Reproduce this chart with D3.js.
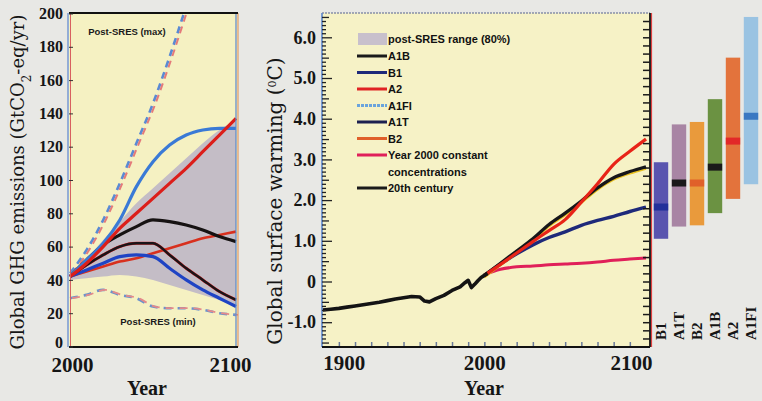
<!DOCTYPE html>
<html>
<head>
<meta charset="utf-8">
<script src="https://cdn.jsdelivr.net/npm/d3@7"></script>
<style>
  body { margin: 0; background: #e8e8e5; }
  svg { display: block; }
</style>
</head>
<body>
<svg id="chart" width="762" height="401"></svg>
<script>
// ---- emissions panel (GtCO2-eq/yr) ----
const emisYears = [2000, 2010, 2020, 2030, 2040, 2050, 2060, 2070, 2080, 2090, 2100];
const emisA1FI = [42, 52, 62, 76, 96, 111, 121, 127, 130, 131, 131];
const emisA2   = [42, 50, 60, 71, 80, 89, 98, 107, 117, 127, 137];
const emisA1B  = [42, 52, 61, 67, 72, 76, 75, 73, 70, 66, 63];
const emisA1T  = [42, 49, 55, 60, 62, 62, 55, 47, 40, 33, 28];
const emisB1   = [42, 46, 50, 54, 55, 54, 47, 40, 34, 29, 24];
const emisB2   = [42, 45, 48, 51, 53, 56, 59, 62, 65, 67, 69];
const postSresMaxYears = [2000, 2010, 2020, 2030, 2040, 2050, 2060, 2070, 2080];
const postSresMax = [44, 58, 76, 98, 122, 146, 174, 204, 232];
const postSresMin = [29, 31, 34, 31, 29, 24, 23, 23, 22, 20, 19];
const rangeUpper = [44, 53, 64, 75, 86, 95, 104, 113, 122, 130, 136];
const rangeLower = [40, 41, 42, 43, 42, 40, 37, 34, 31, 28, 25];
const emisTicks = [0, 20, 40, 60, 80, 100, 120, 140, 160, 180, 200];

// ---- warming panel (deg C relative to 1980-1999) ----
const histYears = [1900, 1905, 1910, 1915, 1920, 1925, 1930, 1935, 1940, 1945, 1950, 1955, 1960, 1963, 1966, 1970, 1975, 1980, 1985, 1988, 1990, 1992, 1994, 1996, 1998, 2000, 2002];
const histTemp  = [-0.70, -0.68, -0.66, -0.63, -0.60, -0.57, -0.54, -0.51, -0.47, -0.43, -0.40, -0.37, -0.38, -0.48, -0.50, -0.42, -0.34, -0.22, -0.13, -0.03, 0.03, -0.15, -0.07, 0.02, 0.10, 0.15, 0.20];
const projYears = [2000, 2010, 2020, 2030, 2040, 2050, 2060, 2070, 2080, 2090, 2100];
const warmA2    = [0.15, 0.42, 0.70, 0.98, 1.25, 1.52, 1.95, 2.40, 2.88, 3.20, 3.50];
const warmA1B   = [0.15, 0.45, 0.75, 1.05, 1.40, 1.68, 1.98, 2.30, 2.55, 2.70, 2.82];
const warmB1    = [0.15, 0.43, 0.68, 0.90, 1.08, 1.22, 1.38, 1.50, 1.60, 1.72, 1.83];
const warmConst = [0.17, 0.30, 0.36, 0.38, 0.41, 0.43, 0.45, 0.48, 0.52, 0.55, 0.58];
const warmTicks = [-1, 0, 1, 2, 3, 4, 5, 6];

// ---- likely ranges at 2090-2099 ----
const barScenarios = ['B1', 'A1T', 'B2', 'A1B', 'A2', 'A1FI'];
const barLow  = [1.05, 1.35, 1.38, 1.68, 2.03, 2.39];
const barHigh = [2.93, 3.86, 3.92, 4.48, 5.50, 6.50];
const barBest = [1.83, 2.42, 2.42, 2.81, 3.45, 4.06];
const barFill = ['#4c46aa', '#a27c9e', '#e8922e', '#5f8a34', '#e2682e', '#92bfe2'];
const barMark = ['#22309a', '#1a1a1a', '#e0602a', '#1a1a1a', '#e22828', '#3a78c2'];

// legend entries (line sample colours)
const legendLabels = ['A1B', 'B1', 'A2', 'A1FI', 'A1T', 'B2', 'Year 2000 constant', '20th century'];
const legendColors = ['#1a1a1a', '#1e2a7a', '#e02424', '#6aa4dc', '#1c2050', '#e0602a', '#e0205a', '#1a1a1a'];

const svg = d3.select('#chart');
const SERIF = '"Liberation Serif", "Times New Roman", serif';
const TITLE_FONT = '"DejaVu Serif", serif';
const SANS = '"Liberation Sans", Arial, sans-serif';

// left panel geometry
const L = { x0: 69, x1: 238, y0: 13, y1: 347 };
// right panel geometry
const R = { x0: 322, x1: 650, y0: 13, y1: 347 };

const emisX = d3.scaleLinear().domain([2000, 2100]).range([70, 236]);
const emisY = d3.scaleLinear().domain([0, 200]).range([346.5, 13.5]);
const warmX = d3.scaleLinear().domain([1900, 2100]).range([322.7, 646]);
const warmY = d3.scaleLinear().domain([0, 6]).range([281.5, 37.3]);

const defs = svg.append('defs');
defs.append('clipPath').attr('id', 'clipL')
    .append('rect').attr('x', L.x0).attr('y', L.y0).attr('width', L.x1 - L.x0).attr('height', L.y1 - L.y0);
defs.append('clipPath').attr('id', 'clipR')
    .append('rect').attr('x', R.x0).attr('y', R.y0).attr('width', R.x1 - R.x0).attr('height', R.y1 - R.y0);

// plot backgrounds
svg.append('rect').attr('x', L.x0).attr('y', L.y0).attr('width', L.x1 - L.x0).attr('height', L.y1 - L.y0)
    .attr('fill', '#f5f1c2');
svg.append('rect').attr('x', R.x0).attr('y', R.y0).attr('width', R.x1 - R.x0).attr('height', R.y1 - R.y0)
    .attr('fill', '#f6f2c6');

// ================= LEFT PANEL =================
const gL = svg.append('g').attr('clip-path', 'url(#clipL)');

const emisLine = vals => d3.line()
    .x((d, i) => emisX(emisYears[i]))
    .y(d => emisY(d))
    .curve(d3.curveMonotoneX)(vals);

// post-SRES 80% range shading
gL.append('path')
    .datum(emisYears)
    .attr('d', d3.area()
        .x(d => emisX(d))
        .y0((d, i) => emisY(rangeLower[i]))
        .y1((d, i) => emisY(rangeUpper[i]))
        .curve(d3.curveMonotoneX))
    .attr('fill', '#c4bdc6');

// post-SRES max (dashed, misregistered blue/red)
const maxLine = d3.line()
    .x((d, i) => emisX(postSresMaxYears[i]))
    .y(d => emisY(d))
    .curve(d3.curveMonotoneX);
gL.append('path').attr('d', maxLine(postSresMax))
    .attr('fill', 'none').attr('stroke', '#5a8ad4').attr('stroke-width', 2.6)
    .attr('stroke-dasharray', '7,5');
gL.append('path').attr('d', maxLine(postSresMax)).attr('transform', 'translate(2.5,0)')
    .attr('fill', 'none').attr('stroke', '#e47a7a').attr('stroke-width', 2)
    .attr('stroke-dasharray', '7,5');

// post-SRES min (dashed)
gL.append('path').attr('d', emisLine(postSresMin))
    .attr('fill', 'none').attr('stroke', '#6a92cc').attr('stroke-width', 2.6)
    .attr('stroke-dasharray', '8,6');
gL.append('path').attr('d', emisLine(postSresMin)).attr('transform', 'translate(2,0)')
    .attr('fill', 'none').attr('stroke', '#e48a8a').attr('stroke-width', 1.8)
    .attr('stroke-dasharray', '8,6');

const emisSeries = [
    { vals: emisB2,   color: '#d8301e', width: 2.6 },
    { vals: emisB1,   color: '#1f44c4', width: 3.2 },
    { vals: emisA1T,  color: '#d42020', width: 3 },
    { vals: emisA1T,  color: '#1a1418', width: 2.4 },
    { vals: emisA1B,  color: '#161212', width: 3.2 },
    { vals: emisA1FI, color: '#3a7ad6', width: 3.2 },
    { vals: emisA2,   color: '#dc1e1a', width: 3.2 }
];
emisSeries.forEach(s => {
    gL.append('path').attr('d', emisLine(s.vals))
        .attr('fill', 'none').attr('stroke', s.color).attr('stroke-width', s.width)
        .attr('stroke-linejoin', 'round');
});

// in-panel labels
svg.append('text').attr('x', 127).attr('y', 35).attr('text-anchor', 'middle')
    .attr('font-family', SANS).attr('font-weight', 'bold').attr('font-size', 9.5)
    .attr('fill', '#1a1a1a').text('Post-SRES (max)');
svg.append('text').attr('x', 158).attr('y', 325).attr('text-anchor', 'middle')
    .attr('font-family', SANS).attr('font-weight', 'bold').attr('font-size', 9.5)
    .attr('fill', '#1a1a1a').text('Post-SRES (min)');

// left frame
svg.append('line').attr('x1', L.x0 - 1).attr('x2', L.x0 - 1).attr('y1', L.y0).attr('y2', L.y1).attr('stroke', '#5b86cc').attr('stroke-width', 1.2);
svg.append('line').attr('x1', L.x0 + 1.5).attr('x2', L.x0 + 1.5).attr('y1', L.y0).attr('y2', L.y1).attr('stroke', '#d86060').attr('stroke-width', 1);
svg.append('line').attr('x1', L.x1 - 2).attr('x2', L.x1 - 2).attr('y1', L.y0).attr('y2', L.y1).attr('stroke', '#5b86cc').attr('stroke-width', 1.2);
svg.append('line').attr('x1', L.x1).attr('x2', L.x1).attr('y1', L.y0).attr('y2', L.y1).attr('stroke', '#e08a50').attr('stroke-width', 1);
svg.append('line').attr('x1', L.x0).attr('x2', L.x1).attr('y1', L.y0).attr('y2', L.y0).attr('stroke', '#111').attr('stroke-width', 2);
svg.append('line').attr('x1', L.x0).attr('x2', L.x1).attr('y1', L.y1).attr('y2', L.y1).attr('stroke', '#111').attr('stroke-width', 2);

// left y axis
const axL = svg.append('g').attr('transform', `translate(${L.x0},0)`)
    .call(d3.axisLeft(emisY).tickValues(emisTicks).tickSize(-4).tickPadding(6).tickFormat(d3.format('d')));
axL.select('.domain').remove();
axL.selectAll('line').attr('stroke', '#333');
axL.selectAll('text').attr('font-family', SERIF).attr('font-weight', 'bold').attr('font-size', 16).attr('fill', '#151515')
    .attr('y', d => d === 0 ? -4 : 0);

// left x axis
const axLB = svg.append('g').attr('transform', `translate(0,${L.y1})`)
    .call(d3.axisBottom(emisX).tickValues([2000, 2100]).tickSize(0).tickPadding(10).tickFormat(d3.format('d')));
axLB.select('.domain').remove();
axLB.selectAll('text').attr('font-family', SERIF).attr('font-weight', 'bold').attr('font-size', 21).attr('fill', '#151515')
    .attr('dx', (d, i) => i === 0 ? 2 : -6);

svg.append('text').attr('x', 147).attr('y', 395).attr('text-anchor', 'middle')
    .attr('font-family', SERIF).attr('font-weight', 'bold').attr('font-size', 20).attr('fill', '#151515').text('Year');

// left y title
const tL = svg.append('text').attr('transform', 'translate(24,182) rotate(-90)').attr('text-anchor', 'middle')
    .attr('font-family', TITLE_FONT).attr('font-size', 18).attr('fill', '#151515');
tL.append('tspan').text('Global GHG emissions (GtCO');
tL.append('tspan').attr('baseline-shift', 'sub').attr('font-size', 12).text('2');
tL.append('tspan').text('-eq/yr)');

// ================= RIGHT PANEL =================
const gR = svg.append('g').attr('clip-path', 'url(#clipR)');

const projLine = vals => d3.line()
    .x((d, i) => warmX(projYears[i]))
    .y(d => warmY(d))
    .curve(d3.curveMonotoneX)(vals);

gR.append('path').attr('d', projLine(warmConst))
    .attr('fill', 'none').attr('stroke', '#e0205a').attr('stroke-width', 3);
gR.append('path').attr('d', projLine(warmB1))
    .attr('fill', 'none').attr('stroke', '#1e2a7a').attr('stroke-width', 3.4);
gR.append('path').attr('d', projLine(warmA1B)).attr('transform', 'translate(0,2)')
    .attr('fill', 'none').attr('stroke', '#e8c020').attr('stroke-width', 2);
gR.append('path').attr('d', projLine(warmA1B))
    .attr('fill', 'none').attr('stroke', '#16161a').attr('stroke-width', 3.2);
gR.append('path').attr('d', projLine(warmA2))
    .attr('fill', 'none').attr('stroke', '#e82418').attr('stroke-width', 3.2);

gR.append('path')
    .attr('d', d3.line().x((d, i) => warmX(histYears[i])).y(d => warmY(d))(histTemp))
    .attr('fill', 'none').attr('stroke', '#141414').attr('stroke-width', 3.6).attr('stroke-linejoin', 'round');

// decade ticks along the bottom (inside)
const axRBt = svg.append('g').attr('transform', `translate(0,${R.y1})`)
    .call(d3.axisBottom(warmX).tickValues(d3.range(1910, 2100, 10)).tickSize(-5).tickFormat(''));
axRBt.select('.domain').remove();
axRBt.selectAll('line').attr('stroke', '#6a7a9a').attr('stroke-width', 1.5);

// right frame
svg.append('line').attr('x1', R.x0).attr('x2', R.x1).attr('y1', R.y0).attr('y2', R.y0)
    .attr('stroke', '#8890a8').attr('stroke-width', 1.5).attr('stroke-dasharray', '2,1');
svg.append('line').attr('x1', R.x0).attr('x2', R.x0).attr('y1', R.y0).attr('y2', R.y1).attr('stroke', '#5b86cc').attr('stroke-width', 1.6);
svg.append('line').attr('x1', R.x1 + 1.5).attr('x2', R.x1 + 1.5).attr('y1', R.y0).attr('y2', R.y1).attr('stroke', '#e04040').attr('stroke-width', 1.2);
svg.append('line').attr('x1', R.x1).attr('x2', R.x1).attr('y1', R.y0).attr('y2', R.y1).attr('stroke', '#111').attr('stroke-width', 1.8);
svg.append('line').attr('x1', R.x0).attr('x2', R.x1).attr('y1', R.y1).attr('y2', R.y1).attr('stroke', '#111').attr('stroke-width', 2);

// left side ticks: minor 0.1, half 0.5, major 1.0
const minorL = d3.range(-15, 66).map(k => k / 10);
const axRLminor = svg.append('g').attr('transform', `translate(${R.x0},0)`)
    .call(d3.axisLeft(warmY).tickValues(minorL.filter(v => Math.round(v * 10) % 5 !== 0)).tickSize(-4).tickFormat(''));
axRLminor.select('.domain').remove();
const axRLhalf = svg.append('g').attr('transform', `translate(${R.x0},0)`)
    .call(d3.axisLeft(warmY).tickValues(d3.range(-1.5, 6.6, 1)).tickSize(-7).tickFormat(''));
axRLhalf.select('.domain').remove();
const axRL = svg.append('g').attr('transform', `translate(${R.x0},0)`)
    .call(d3.axisLeft(warmY).tickValues(warmTicks).tickSize(-10).tickPadding(6)
        .tickFormat(d => d === 0 ? '0' : d.toFixed(1)));
axRL.select('.domain').remove();
[axRLminor, axRLhalf, axRL].forEach(a => a.selectAll('line').attr('stroke', '#222').attr('stroke-width', 1.3));
axRL.selectAll('text').attr('font-family', SERIF).attr('font-weight', 'bold').attr('font-size', 18).attr('fill', '#151515');

// right side ticks
const axRR = svg.append('g').attr('transform', `translate(${R.x1},0)`)
    .call(d3.axisRight(warmY).tickValues(d3.range(-7, 33).map(k => k / 5)).tickSize(-7).tickFormat(''));
axRR.select('.domain').remove();
axRR.selectAll('line').attr('stroke', '#1a1a1a').attr('stroke-width', 1.5);

// bottom labels
const axRB = svg.append('g').attr('transform', `translate(0,${R.y1})`)
    .call(d3.axisBottom(warmX).tickValues([1900, 2000, 2100]).tickSize(0).tickPadding(8).tickFormat(d3.format('d')));
axRB.select('.domain').remove();
axRB.selectAll('text').attr('font-family', SERIF).attr('font-weight', 'bold').attr('font-size', 21).attr('fill', '#151515')
    .attr('text-anchor', (d, i) => i === 0 ? 'start' : (i === 2 ? 'end' : 'middle'))
    .attr('dx', (d, i) => i === 2 ? 6 : 0);

svg.append('text').attr('x', 484).attr('y', 395).attr('text-anchor', 'middle')
    .attr('font-family', SERIF).attr('font-weight', 'bold').attr('font-size', 20).attr('fill', '#151515').text('Year');

// right y title
const tR = svg.append('text').attr('transform', 'translate(282,201) rotate(-90)').attr('text-anchor', 'middle')
    .attr('font-family', TITLE_FONT).attr('font-size', 20).attr('fill', '#151515');
tR.append('tspan').text('Global surface warming (');
tR.append('tspan').attr('baseline-shift', 'super').attr('font-size', 11).text('0');
tR.append('tspan').text('C)');

// legend
const lg = svg.append('g').attr('font-family', SANS).attr('font-weight', 'bold').attr('font-size', 11).attr('fill', '#111');
lg.append('rect').attr('x', 358).attr('y', 33).attr('width', 29).attr('height', 12).attr('fill', '#c8c0cc');
lg.append('text').attr('x', 388).attr('y', 43).text('post-SRES range (80%)');
const lgY0 = 56, lgStep = 16.5;
legendLabels.forEach((name, i) => {
    const y = lgY0 + i * lgStep + (i === 7 ? lgStep : 0);
    const ln = lg.append('line').attr('x1', 357).attr('x2', 387).attr('y1', y).attr('y2', y)
        .attr('stroke', legendColors[i]).attr('stroke-width', 3);
    if (name === 'A1FI') ln.attr('stroke-dasharray', '3,1');
    lg.append('text').attr('x', 388).attr('y', y + 4).text(name);
    if (i === 6) lg.append('text').attr('x', 388).attr('y', y + 4 + lgStep).text('concentrations');
});

// ================= RANGE BARS =================
const barX = d3.scaleBand().domain(barScenarios).range([652, 760]).paddingInner(0.2).paddingOuter(0.1);
const bars = svg.append('g');
barScenarios.forEach((s, i) => {
    const x = barX(s), w = barX.bandwidth();
    bars.append('rect').attr('x', x).attr('y', warmY(barHigh[i])).attr('width', w)
        .attr('height', warmY(barLow[i]) - warmY(barHigh[i])).attr('fill', barFill[i]).attr('opacity', 0.92);
    bars.append('rect').attr('x', x).attr('y', warmY(barBest[i]) - 3.5).attr('width', w).attr('height', 7)
        .attr('fill', barMark[i]);
    bars.append('text')
        .attr('transform', `translate(${x + w / 2 + 5},340) rotate(-90)`)
        .attr('font-family', SERIF).attr('font-weight', 'bold').attr('font-size', 15).attr('fill', '#151515')
        .text(s);
});
</script>
</body>
</html>
